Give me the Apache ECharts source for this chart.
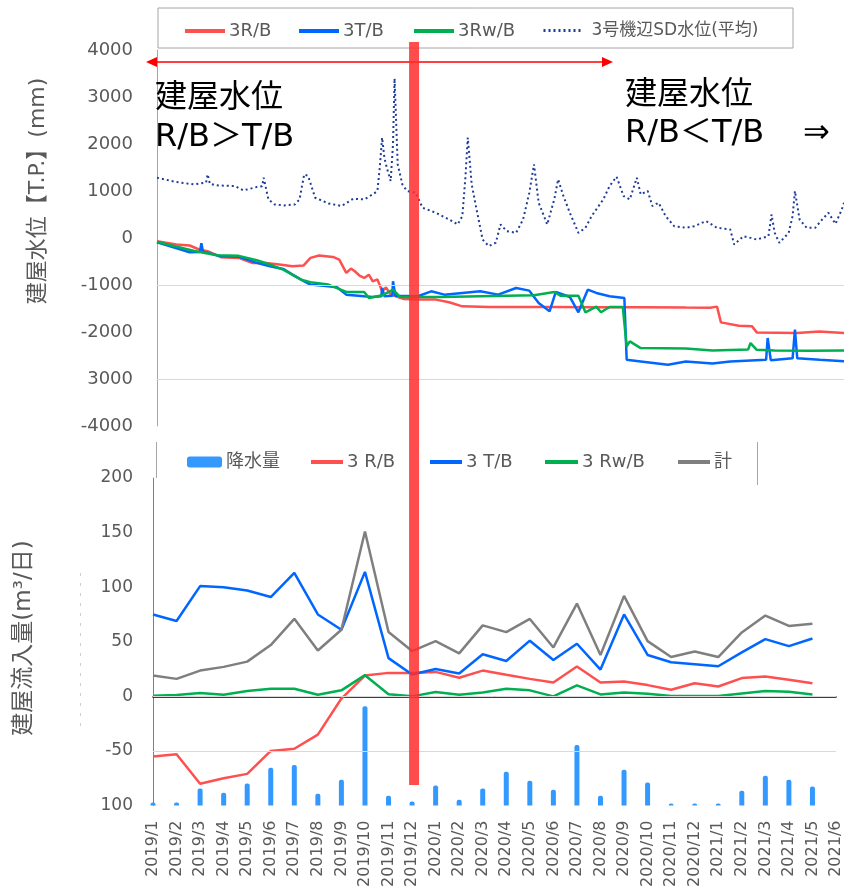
<!DOCTYPE html>
<html><head><meta charset="utf-8">
<script src="https://cdn.jsdelivr.net/npm/echarts@6/dist/echarts.min.js"></script>
<style>html,body{margin:0;padding:0;background:#fff}#c{width:844px;height:890px}</style>
</head><body><div id="c"></div>
<script>
// ---------- Top panel: building water levels (T.P. mm) ----------
const topYTickLabels = ['-4000','3000','-2000','-1000','0','1000','2000','3000','4000'];

const rbDates = ['2019-01-01','2019-01-26','2019-02-12','2019-02-24','2019-03-07','2019-03-24','2019-04-16','2019-05-03','2019-05-21','2019-06-07','2019-06-24','2019-07-08','2019-07-17','2019-07-28','2019-08-15','2019-08-23','2019-09-01','2019-09-07','2019-09-12','2019-09-18','2019-09-24','2019-09-30','2019-10-05','2019-10-11','2019-10-17','2019-10-22','2019-10-28','2019-11-14','2019-12-02','2019-12-25','2020-01-11','2020-01-28','2020-03-02','2020-05-22','2020-07-18','2020-09-13','2020-11-10','2020-12-11','2020-12-20','2020-12-25','2021-01-17','2021-02-03','2021-02-09','2021-04-02','2021-04-30','2021-06-01'];
const rbLevel = [-70,-139,-160,-245,-280,-409,-423,-530,-530,-565,-601,-587,-423,-373,-402,-459,-743,-650,-708,-800,-850,-780,-922,-880,-1134,-1050,-1205,-1297,-1311,-1311,-1368,-1454,-1468,-1470,-1475,-1475,-1480,-1482,-1460,-1795,-1866,-1880,-2008,-2023,-1990,-2020];

const tbDates = ['2019-01-01','2019-01-20','2019-02-12','2019-02-25','2019-02-27','2019-03-01','2019-03-24','2019-04-16','2019-05-09','2019-05-26','2019-06-12','2019-06-24','2019-07-05','2019-07-17','2019-08-09','2019-08-20','2019-09-01','2019-09-24','2019-10-05','2019-10-16','2019-10-17','2019-10-20','2019-10-30','2019-10-31','2019-11-03','2019-12-02','2019-12-19','2020-01-05','2020-01-28','2020-02-20','2020-03-14','2020-04-06','2020-04-23','2020-05-05','2020-05-19','2020-05-27','2020-06-14','2020-06-25','2020-07-07','2020-07-18','2020-08-04','2020-08-23','2020-08-26','2020-09-13','2020-10-18','2020-11-10','2020-12-14','2021-01-06','2021-02-21','2021-02-23','2021-02-27','2021-03-27','2021-03-30','2021-04-02','2021-05-01','2021-06-01'];
const tbLevel = [-90,-189,-302,-300,-110,-290,-387,-400,-530,-601,-658,-778,-885,-992,-1027,-1050,-1205,-1240,-1255,-1240,-1063,-1240,-1230,-921,-1230,-1240,-1134,-1205,-1169,-1134,-1205,-1063,-1120,-1382,-1560,-1148,-1255,-1581,-1100,-1169,-1240,-1276,-2591,-2626,-2697,-2626,-2670,-2626,-2590,-2128,-2600,-2560,-1951,-2560,-2591,-2620];

const rwDates = ['2019-01-01','2019-01-20','2019-02-18','2019-03-19','2019-04-16','2019-05-09','2019-05-26','2019-06-12','2019-07-05','2019-07-17','2019-08-09','2019-09-01','2019-09-24','2019-09-30','2019-10-17','2019-10-31','2019-11-09','2019-12-31','2020-03-25','2020-04-29','2020-05-25','2020-06-02','2020-06-25','2020-07-04','2020-07-18','2020-07-24','2020-08-04','2020-08-21','2020-08-26','2020-08-30','2020-09-13','2020-11-10','2020-12-14','2021-01-29','2021-02-01','2021-02-09','2021-03-04','2021-04-19','2021-06-01'];
const rwLevel = [-80,-160,-275,-366,-380,-473,-565,-672,-885,-941,-990,-1148,-1148,-1276,-1220,-1100,-1255,-1255,-1230,-1219,-1148,-1230,-1230,-1581,-1460,-1581,-1468,-1470,-2306,-2200,-2342,-2350,-2392,-2370,-2235,-2380,-2392,-2400,-2392];

const sdDates = ['2019-01-01','2019-01-26','2019-02-18','2019-03-05','2019-03-07','2019-03-10','2019-03-19','2019-04-11','2019-04-22','2019-05-09','2019-05-16','2019-05-18','2019-05-24','2019-06-01','2019-06-13','2019-06-27','2019-07-03','2019-07-09','2019-07-14','2019-07-23','2019-08-09','2019-08-26','2019-09-10','2019-09-24','2019-10-05','2019-10-11','2019-10-14','2019-10-17','2019-10-20','2019-10-23','2019-10-28','2019-10-31','2019-11-02','2019-11-06','2019-11-12','2019-11-18','2019-11-29','2019-12-08','2019-12-25','2020-01-11','2020-01-22','2020-01-28','2020-02-01','2020-02-04','2020-02-09','2020-02-14','2020-02-23','2020-03-02','2020-03-11','2020-03-17','2020-03-25','2020-04-06','2020-04-15','2020-04-23','2020-04-29','2020-05-05','2020-05-16','2020-05-25','2020-05-30','2020-06-05','2020-06-14','2020-06-25','2020-07-04','2020-07-12','2020-07-21','2020-07-27','2020-08-04','2020-08-13','2020-08-22','2020-08-30','2020-09-08','2020-09-13','2020-09-22','2020-09-28','2020-10-06','2020-10-15','2020-10-26','2020-11-10','2020-11-21','2020-12-06','2020-12-20','2021-01-06','2021-01-11','2021-01-23','2021-02-09','2021-02-24','2021-02-28','2021-03-04','2021-03-10','2021-03-22','2021-03-27','2021-03-30','2021-04-05','2021-04-14','2021-04-25','2021-05-04','2021-05-12','2021-05-21','2021-05-29','2021-06-01'];
const sdLevel = [1283,1190,1140,1180,1354,1150,1120,1105,1013,1084,1100,1283,821,714,693,714,821,1354,1320,857,736,680,836,821,928,1000,1500,2136,1700,1496,1212,2000,3394,1567,1140,1000,963,643,537,394,288,465,1300,2136,1140,715,-32,-174,-100,288,145,110,394,964,1567,750,288,821,1247,928,537,110,217,465,680,821,1105,1305,893,821,1283,928,1000,680,750,465,252,217,252,360,217,181,-139,39,-32,39,500,110,-103,110,465,1000,394,217,217,394,537,300,600,750];

// ---------- Bottom panel: monthly inflow (m3/day) and rainfall ----------
const months = ['2019/1','2019/2','2019/3','2019/4','2019/5','2019/6','2019/7','2019/8','2019/9','2019/10','2019/11','2019/12','2020/1','2020/2','2020/3','2020/4','2020/5','2020/6','2020/7','2020/8','2020/9','2020/10','2020/11','2020/12','2021/1','2021/2','2021/3','2021/4','2021/5','2021/6'];
const bottomYTickLabels = ['100','-50','0','50','100','150','200'];
const rainfall   = [9,9,52,39,67,115,124,36,79,303,30,12,61,18,52,103,76,48,185,30,109,70,6,6,6,45,91,79,58];
const inflowRB   = [-55,-53,-80,-75,-71,-50,-48,-35,-2,19,21.5,21.5,22.4,17,23.6,19.7,16,12.7,27.3,12.7,13.6,10.3,6,12,9,16.7,18.2,15.2,12];
const inflowTB   = [75,69,101,100,97,91,113,75,61,114,35,20,25,21,38.5,32.4,51,33.3,48.2,24.5,75,37.9,31.2,29.4,27.6,40.3,52.4,46,53];
const inflowRwB  = [0.6,1.2,3,1.5,5,7,7,1.5,5.5,19.4,2,0,4,1.5,3.6,7,5.5,0,10,1.8,3.6,2.4,0.3,0.3,0.3,2.7,4.8,4.2,1.8];
const inflowTot  = [19,16,23.6,27,31.8,47,71,42,61,151,59,41.5,50.6,39.4,65,58.8,70.9,44.8,85,37.9,92,50.6,36,41,36,58.5,74,64.5,66.4];
const markMonth = '2019/12';

const pairs = (d, v) => d.map((x, i) => [x, v[i]]);
const FONT = 'DejaVu Sans, Noto Sans CJK JP, sans-serif';
const GREY = '#595959';
const C_R = '#FF5050', C_T = '#0066FF', C_RW = '#00B050', C_SD = '#1F3C96', C_TOT = '#7F7F7F', C_RAIN = '#3399FF';

const chart = echarts.init(document.getElementById('c'));

function legendAt(name, left, top, extra) {
  return Object.assign({
    data: [name], left: left, top: top, itemWidth: 40, itemHeight: 14, itemGap: 0, padding: 0,
    selectedMode: false,
    itemStyle: { opacity: 0 },
    lineStyle: { width: 4 },
    textStyle: { fontFamily: FONT, fontSize: 18, color: GREY, padding: [0, 0, 0, -1] }
  }, extra || {});
}

const option = {
  animation: false,
  backgroundColor: '#fff',
  grid: [
    { left: 157, right: 0, top: 50, height: 376 },
    { left: 153, right: 1, top: 478, height: 330 }
  ],
  legend: [
    legendAt('3R/B', 183, 22),
    legendAt('3T/B', 297, 22),
    legendAt('3Rw/B', 412, 22),
    legendAt('3号機辺SD水位(平均)', 542, 22, { lineStyle: { width: 3 }, textStyle: { fontFamily: FONT, fontSize: 17, color: GREY, padding: [0, 0, 0, 3] } }),
    legendAt('降水量', 187, 453, { itemWidth: 35, itemHeight: 11, itemStyle: {} }),
    legendAt('3 R/B', 309, 453, { itemWidth: 32 }),
    legendAt('3 T/B', 428, 453, { itemWidth: 32 }),
    legendAt('3 Rw/B', 543, 453, { itemWidth: 33 }),
    legendAt('計', 676, 453, { itemWidth: 32 })
  ],
  xAxis: [
    { type: 'time', gridIndex: 0, min: '2019-01-01', max: '2021-06-01', show: false },
    { type: 'category', gridIndex: 1, data: months, boundaryGap: false,
      axisLine: { lineStyle: { color: '#000', width: 1.5 } },
      axisTick: { show: false },
      axisLabel: { rotate: 90, interval: 0, margin: 15, fontFamily: FONT, fontSize: 16, color: GREY },
      splitLine: { show: false } }
  ],
  yAxis: [
    { type: 'value', gridIndex: 0, min: -4000, max: 4000, interval: 1000,
      axisLine: { show: true, lineStyle: { color: '#A6A6A6' } }, axisTick: { show: false },
      splitLine: { show: false },
      axisLabel: { margin: 24, fontFamily: FONT, fontSize: 18, color: GREY,
        formatter: v => topYTickLabels[Math.round((v + 4000) / 1000)] } },
    { type: 'value', gridIndex: 1, min: -100, max: 200, interval: 50,
      axisLine: { show: true, lineStyle: { color: '#808080' } }, axisTick: { show: false },
      splitLine: { show: false },
      axisLabel: { margin: 20, fontFamily: FONT, fontSize: 17, color: GREY,
        formatter: v => bottomYTickLabels[Math.round((v + 100) / 50)] } },
    { type: 'value', gridIndex: 1, min: 0, max: 1000, show: false }
  ],
  series: [
    { type: 'line', name: '_gridTop', xAxisIndex: 0, yAxisIndex: 0, data: [], z: 1, silent: true,
      markLine: { silent: true, symbol: 'none', label: { show: false },
        lineStyle: { color: '#D9D9D9', width: 1, type: 'solid' },
        data: [{ yAxis: -1000 }, { yAxis: -3000 }] } },
    { type: 'line', name: '3R/B', xAxisIndex: 0, yAxisIndex: 0, data: pairs(rbDates, rbLevel),
      showSymbol: false, symbol: 'none', lineStyle: { color: C_R, width: 2.5 }, itemStyle: { color: C_R } },
    { type: 'line', name: '3T/B', xAxisIndex: 0, yAxisIndex: 0, data: pairs(tbDates, tbLevel),
      showSymbol: false, symbol: 'none', lineStyle: { color: C_T, width: 2.5 }, itemStyle: { color: C_T } },
    { type: 'line', name: '3Rw/B', xAxisIndex: 0, yAxisIndex: 0, data: pairs(rwDates, rwLevel),
      showSymbol: false, symbol: 'none', lineStyle: { color: C_RW, width: 2.5 }, itemStyle: { color: C_RW } },
    { type: 'line', name: '3号機辺SD水位(平均)', xAxisIndex: 0, yAxisIndex: 0, data: pairs(sdDates, sdLevel),
      showSymbol: false, symbol: 'none', lineStyle: { color: C_SD, width: 2, type: [2, 3] }, itemStyle: { color: C_SD } },

    { type: 'line', name: '_gridBottom', xAxisIndex: 1, yAxisIndex: 1, data: [], z: 1, silent: true,
      markLine: { silent: true, symbol: 'none', label: { show: false },
        lineStyle: { color: '#D9D9D9', width: 1, type: 'solid' },
        data: [{ yAxis: 0 }, { yAxis: -50 }] } },
    { type: 'bar', name: '降水量', xAxisIndex: 1, yAxisIndex: 2, data: rainfall, barWidth: 5,
      itemStyle: { color: C_RAIN, borderRadius: [2, 2, 0, 0] } },
    { type: 'line', name: '3 R/B', xAxisIndex: 1, yAxisIndex: 1, data: inflowRB,
      showSymbol: false, symbol: 'none', lineStyle: { color: C_R, width: 2.5 }, itemStyle: { color: C_R } },
    { type: 'line', name: '3 T/B', xAxisIndex: 1, yAxisIndex: 1, data: inflowTB,
      showSymbol: false, symbol: 'none', lineStyle: { color: C_T, width: 2.5 }, itemStyle: { color: C_T } },
    { type: 'line', name: '3 Rw/B', xAxisIndex: 1, yAxisIndex: 1, data: inflowRwB,
      showSymbol: false, symbol: 'none', lineStyle: { color: C_RW, width: 2.5 }, itemStyle: { color: C_RW } },
    { type: 'line', name: '計', xAxisIndex: 1, yAxisIndex: 1, data: inflowTot,
      showSymbol: false, symbol: 'none', lineStyle: { color: C_TOT, width: 2.5 }, itemStyle: { color: C_TOT } }
  ]
};
chart.setOption(option);

const bandX = chart.convertToPixel({ xAxisIndex: 1 }, markMonth);
const bigText = { fontFamily: FONT, fontSize: 32, fill: '#000' };
chart.setOption({
  graphic: [
    { type: 'rect', z: 0, shape: { x: 158, y: 8, width: 635, height: 40 }, style: { fill: 'rgba(255,255,255,0)', stroke: '#A6A6A6', lineWidth: 1 } },
    { type: 'line', z: 5, shape: { x1: 156.5, y1: 442, x2: 156.5, y2: 478 }, style: { stroke: '#A6A6A6', lineWidth: 1 } },
    { type: 'line', z: 5, shape: { x1: 757.5, y1: 442, x2: 757.5, y2: 485 }, style: { stroke: '#A6A6A6', lineWidth: 1 } },
    { type: 'line', z: 5, shape: { x1: 80.5, y1: 573, x2: 80.5, y2: 727 }, style: { stroke: '#D0D0D0', lineWidth: 1, lineDash: [3, 7] } },
    { type: 'line', z: 5, shape: { x1: 156, y1: 62, x2: 603, y2: 62 }, style: { stroke: '#FF0000', lineWidth: 1.5 } },
    { type: 'polygon', z: 5, shape: { points: [[146, 62], [157, 57], [157, 67]] }, style: { fill: '#FF0000' } },
    { type: 'polygon', z: 5, shape: { points: [[613, 62], [602, 57], [602, 67]] }, style: { fill: '#FF0000' } },
    { type: 'text', z: 5, left: 155, top: 83, style: Object.assign({ text: '建屋水位' }, bigText) },
    { type: 'text', z: 5, left: 155, top: 122, style: Object.assign({ text: 'R/B＞T/B' }, bigText) },
    { type: 'text', z: 5, left: 625, top: 80, style: Object.assign({ text: '建屋水位' }, bigText) },
    { type: 'text', z: 5, left: 625, top: 118, style: Object.assign({ text: 'R/B＜T/B' }, bigText) },
    { type: 'text', z: 5, left: 803, top: 118, style: Object.assign({ text: '⇒' }, bigText) },
    { type: 'text', z: 5, x: 38, y: 191, rotation: Math.PI / 2,
      style: { text: '建屋水位【T.P.】(mm)', fontFamily: FONT, fontSize: 22, fill: GREY, align: 'center', verticalAlign: 'middle' } },
    { type: 'text', z: 5, x: 24, y: 638, rotation: Math.PI / 2,
      style: { text: '建屋流入量(m³/日)', fontFamily: FONT, fontSize: 23, fill: GREY, align: 'center', verticalAlign: 'middle' } },
    { type: 'rect', z: 100, shape: { x: bandX - 3, y: 42, width: 10, height: 743 }, style: { fill: 'rgba(255,45,45,0.85)' } }
  ]
});
</script></body></html>
